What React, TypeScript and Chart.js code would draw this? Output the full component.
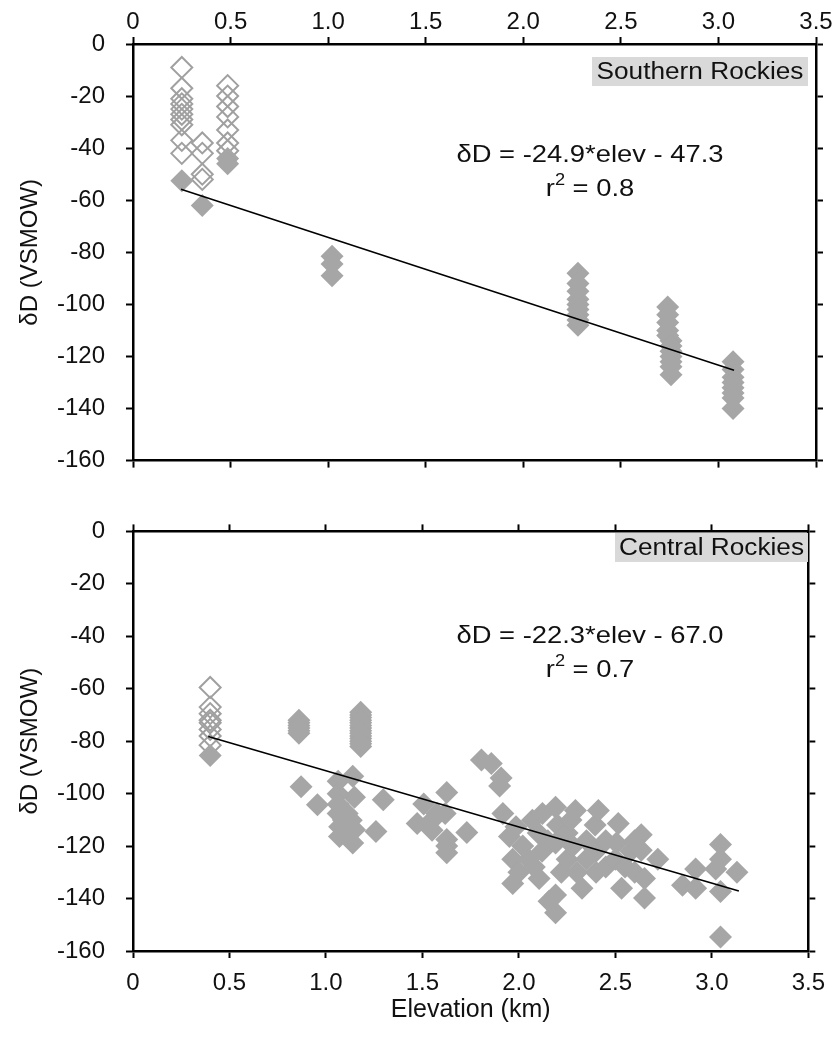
import React, { useEffect, useRef } from 'react';
import { Chart, registerables } from 'chart.js';

Chart.register(...registerables);

const FONT = '"Liberation Sans", Arial, Helvetica, sans-serif';
const TEXT = '#111111';
const GRAY = '#a6a6a6';

// ---- tick labels ----
const xTickValues = [0, 0.5, 1, 1.5, 2, 2.5, 3, 3.5];
const xTickLabels = ['0', '0.5', '1.0', '1.5', '2.0', '2.5', '3.0', '3.5'];
const yTickValues = [0, -20, -40, -60, -80, -100, -120, -140, -160];
const yTickLabels = ['0', '-20', '-40', '-60', '-80', '-100', '-120', '-140', '-160'];

// ---- Southern Rockies ----
const southOpenElev = [0.25, 0.25, 0.25, 0.25, 0.25, 0.25, 0.25, 0.25, 0.25, 0.25, 0.355, 0.355, 0.355, 0.355, 0.485, 0.485, 0.485, 0.485, 0.485, 0.485, 0.485];
const southOpenDD = [-9, -17, -21, -23, -25, -27, -29, -31, -37, -42, -38, -42, -50, -52, -16, -20, -24, -28, -33, -38, -41];

const southFilledElev = [0.25, 0.355, 0.485, 0.485, 1.02, 1.02, 1.02,
  2.28, 2.28, 2.28, 2.28, 2.28, 2.28, 2.28, 2.28, 2.28,
  2.74, 2.74, 2.74, 2.74, 2.74,
  2.757, 2.757, 2.757, 2.757, 2.757, 2.757, 2.757,
  3.075, 3.075, 3.075, 3.075, 3.075, 3.075, 3.075, 3.075];
const southFilledDD = [-52.5, -62, -44, -46, -81.5, -84.5, -89,
  -88, -92, -95, -98, -100, -102, -104, -106, -108,
  -101, -104, -107, -110, -112,
  -114, -116, -118, -120, -122, -124, -127,
  -122, -125, -128, -130, -132, -134, -136, -140];

const southTrendElev = [0.246, 3.08];
const southTrendDD = [-55.8, -125.3];

// ---- Central Rockies ----
const centralOpenElev = [0.4, 0.4, 0.4, 0.4, 0.4, 0.4, 0.4, 0.4];
const centralOpenDD = [-59.5, -67, -69.5, -72, -73, -75.5, -78, -81.5];

const centralFilledElev = [0.4,
  0.86, 0.86, 0.86, 0.86, 0.86, 0.86,
  1.18, 1.18, 1.18, 1.18, 1.18, 1.18, 1.18, 1.18, 1.18, 1.18, 1.18, 1.18, 1.18, 1.18,
  0.871, 0.956, 1.063, 1.139, 1.148, 1.063, 1.063, 1.063, 1.071, 1.131, 1.148, 1.07, 1.139, 1.11, 1.09, 1.1,
  1.297, 1.259, 1.473, 1.507, 1.55, 1.55, 1.575, 1.618, 1.626, 1.626, 1.626, 1.626, 1.73,
  1.806, 1.857, 1.908, 1.9, 1.917, 1.951, 1.968, 1.968, 1.985,
  2.02, 2.05, 2.0, 2.07, 2.08, 2.1, 2.105, 2.12, 2.122, 2.15, 2.156,
  2.19, 2.19, 2.19, 2.19, 2.2, 2.22, 2.25, 2.25, 2.27, 2.28, 2.293, 2.3, 2.327,
  2.35, 2.35, 2.395, 2.4, 2.4, 2.412, 2.45, 2.45, 2.5, 2.506, 2.515, 2.532, 2.55, 2.58, 2.6, 2.6,
  2.634, 2.634, 2.651, 2.651, 2.72, 2.848, 2.916, 2.916, 3.02, 3.045, 3.045, 3.045, 3.045, 3.13];
const centralFilledDD = [-85.5,
  -72, -73, -74, -75, -76, -77,
  -69, -70, -71, -72, -73, -74, -75, -76, -77, -78, -79, -80, -81, -82,
  -97.4, -104.2, -95.3, -93.4, -101.4, -100, -104, -107.6, -112.6, -110.1, -113.8, -116.3, -118.8, -107.6, -110, -115,
  -102.3, -114.4, -111.4, -103.9, -110.1, -114, -107.6, -107.6, -99.6, -117.5, -120, -122.5, -114.8,
  -87.2, -88.5, -94, -97.1, -107.6, -116.3, -125, -134.3, -112.6,
  -120, -125, -130, -110.1, -128, -115, -132.4, -122, -107.6, -118, -141,
  -105.2, -118.8, -138.6, -145.4, -112, -130, -115, -125, -110, -120, -106.4, -130, -136.1,
  -118, -125, -112, -122, -130, -106.4, -118, -128, -125, -118.8, -111.4, -136.1, -128, -122, -130, -118,
  -115.7, -121.6, -132.4, -139.8, -125, -134.9, -128.7, -136.1, -128.7, -119.4, -125, -137.3, -154.7, -130];

const centralTrendElev = [0.39, 3.14];
const centralTrendDD = [-78.2, -137.1];

type Spec = {
  openX: number[]; openY: number[];
  filledX: number[]; filledY: number[];
  trendX: number[]; trendY: number[];
  xPos: 'top' | 'bottom';
  xH: number; x2H: number; xPad: number;
  xTitle: boolean;
  label: string; box: [number, number, number, number];
  eq: string; r2val: string; eqY: number; r2Y: number;
};

const pts = (xs: number[], ys: number[]) => xs.map((x, i) => ({ x, y: ys[i] }));

const SX = 1.14; // horizontal stretch of the reference lettering

function stretchedText(ctx: CanvasRenderingContext2D, text: string, cx: number, cy: number, size: number) {
  ctx.save();
  ctx.translate(cx, cy);
  ctx.scale(SX, 1);
  ctx.font = `${size}px ${FONT}`;
  ctx.textAlign = 'center';
  ctx.textBaseline = 'middle';
  ctx.fillText(text, 0, 0);
  ctx.restore();
}

function buildConfig(spec: Spec): any {
  const tickFont = { family: FONT, size: 24 };
  const grid = { display: true, drawOnChartArea: false, drawTicks: true, tickLength: 7, tickWidth: 2, tickColor: '#000' };
  const border = { display: true, color: '#000', width: 2.5 };
  const setX = (s: any) => { s.ticks = xTickValues.map((v) => ({ value: v })); };
  const setY = (s: any) => { s.ticks = yTickValues.map((v) => ({ value: v })); };

  const annot = {
    id: 'annot',
    afterDraw(chart: any) {
      const ctx = chart.ctx as CanvasRenderingContext2D;
      ctx.save();
      ctx.fillStyle = TEXT;
      // region label box
      const [bx, by, bw, bh] = spec.box;
      ctx.fillStyle = '#d9d9d9';
      ctx.fillRect(bx, by, bw, bh);
      ctx.fillStyle = TEXT;
      stretchedText(ctx, spec.label, bx + bw / 2, by + bh / 2 + 1, 23);
      // equation
      stretchedText(ctx, spec.eq, 590, spec.eqY, 24);
      // r^2
      const big = `24px ${FONT}`;
      const small = `16px ${FONT}`;
      ctx.font = big;
      const wr = ctx.measureText('r').width;
      const rest = ' = ' + spec.r2val;
      const wrest = ctx.measureText(rest).width;
      ctx.font = small;
      const w2 = ctx.measureText('2').width;
      const total = wr + w2 + wrest;
      ctx.save();
      ctx.translate(590, spec.r2Y);
      ctx.scale(SX, 1);
      ctx.textAlign = 'left';
      ctx.textBaseline = 'middle';
      let x = -total / 2;
      ctx.font = big;
      ctx.fillText('r', x, 0);
      x += wr;
      ctx.font = small;
      ctx.fillText('2', x, -8);
      x += w2;
      ctx.font = big;
      ctx.fillText(rest, x, 0);
      ctx.restore();
      ctx.restore();
    },
  };

  return {
    type: 'scatter',
    data: {
      datasets: [
        {
          type: 'line',
          data: pts(spec.trendX, spec.trendY),
          borderColor: '#000',
          borderWidth: 1.6,
          pointRadius: 0,
          fill: false,
          showLine: true,
        },
        {
          data: pts(spec.filledX, spec.filledY),
          pointStyle: 'rectRot',
          pointRadius: 11.5,
          backgroundColor: GRAY,
          borderWidth: 0,
        },
        {
          data: pts(spec.openX, spec.openY),
          pointStyle: 'rectRot',
          pointRadius: 10.5,
          backgroundColor: 'rgba(0,0,0,0)',
          borderColor: '#a0a0a0',
          borderWidth: 2,
        },
      ],
    },
    options: {
      animation: false,
      responsive: false,
      maintainAspectRatio: false,
      layout: { padding: 0 },
      plugins: { legend: { display: false }, tooltip: { enabled: false } },
      scales: {
        x: {
          type: 'linear', position: spec.xPos, min: 0, max: 3.5,
          afterBuildTicks: setX,
          ticks: { callback: (_v: any, i: number) => xTickLabels[i], font: tickFont, color: TEXT, padding: spec.xPad, maxRotation: 0, autoSkip: false },
          grid, border,
          title: spec.xTitle
            ? { display: true, text: 'Elevation (km)', font: { family: FONT, size: 25 }, color: TEXT, padding: { top: 0, bottom: 13 } }
            : { display: false },
          afterFit: (s: any) => { s.height = spec.xH; },
        },
        x2: {
          type: 'linear', position: spec.xPos === 'top' ? 'bottom' : 'top', min: 0, max: 3.5,
          afterBuildTicks: setX,
          ticks: { display: false },
          grid, border,
          afterFit: (s: any) => { s.height = spec.x2H; },
        },
        y: {
          type: 'linear', position: 'left', min: -160, max: 0,
          afterBuildTicks: setY,
          ticks: { callback: (_v: any, i: number) => yTickLabels[i], font: tickFont, color: TEXT, padding: 21, autoSkip: false },
          grid, border,
          title: { display: true, text: 'δD (VSMOW)', font: { family: FONT, size: 24 }, color: TEXT, padding: { top: 16, bottom: 0 } },
          afterFit: (s: any) => { s.width = 133; },
        },
        y2: {
          type: 'linear', position: 'right', min: -160, max: 0,
          afterBuildTicks: setY,
          ticks: { display: false },
          grid, border,
          afterFit: (s: any) => { s.width = 20; },
        },
      },
    },
    plugins: [annot],
  };
}

const TOP_SPEC: Spec = {
  openX: southOpenElev, openY: southOpenDD,
  filledX: southFilledElev, filledY: southFilledDD,
  trendX: southTrendElev, trendY: southTrendDD,
  xPos: 'top', xH: 44, x2H: 22, xPad: 0, xTitle: false,
  label: 'Southern Rockies', box: [592, 57, 216, 29],
  eq: 'δD = -24.9*elev - 47.3', r2val: '0.8', eqY: 155, r2Y: 189,
};

const BOTTOM_SPEC: Spec = {
  openX: centralOpenElev, openY: centralOpenDD,
  filledX: centralFilledElev, filledY: centralFilledDD,
  trendX: centralTrendElev, trendY: centralTrendDD,
  xPos: 'bottom', xH: 87, x2H: 24, xPad: 11, xTitle: true,
  label: 'Central Rockies', box: [615, 37, 193, 29],
  eq: 'δD = -22.3*elev - 67.0', r2val: '0.7', eqY: 140, r2Y: 174,
};

export default function App() {
  const topRef = useRef<HTMLCanvasElement>(null);
  const botRef = useRef<HTMLCanvasElement>(null);
  useEffect(() => {
    const c1 = new Chart(topRef.current as HTMLCanvasElement, buildConfig(TOP_SPEC));
    const c2 = new Chart(botRef.current as HTMLCanvasElement, buildConfig(BOTTOM_SPEC));
    return () => { c1.destroy(); c2.destroy(); };
  }, []);
  return (
    <div style={{ position: 'absolute', left: 0, top: 0, width: 836, height: 1038, overflow: 'hidden', background: '#fff' }}>
      <canvas ref={topRef} width={836} height={496} style={{ display: 'block', width: 836, height: 496 }} />
      <canvas ref={botRef} width={836} height={542} style={{ display: 'block', width: 836, height: 542 }} />
    </div>
  );
}
